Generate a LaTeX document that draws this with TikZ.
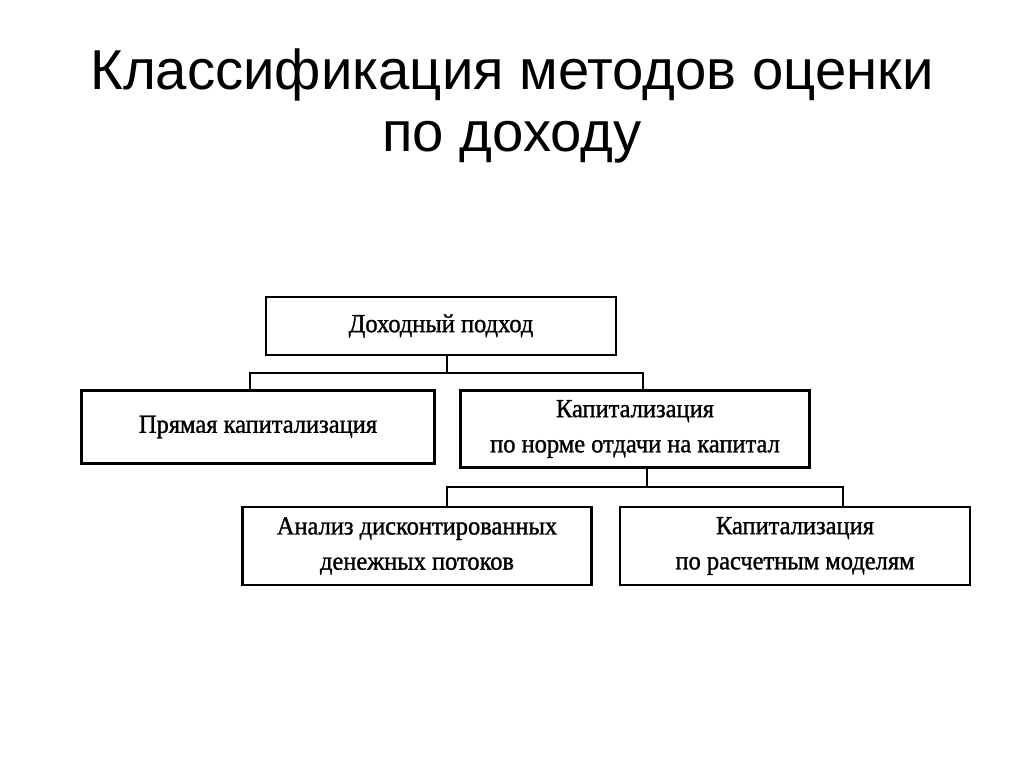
\documentclass[tikz,border=0pt]{standalone}
\usepackage{fontspec}
\setmainfont{Liberation Serif}
\newfontfamily\titlefont{Liberation Sans}
\newfontfamily\boxfont{Liberation Serif}[FakeBold=1.2,FakeStretch=0.94]
\usepackage{tikz}
\usetikzlibrary{positioning}

\begin{document}
\begin{tikzpicture}[x=0.025cm,y=-0.025cm]
\tikzstyle{box}=[draw,line width=1.6pt,align=center,inner sep=0pt,
  font=\boxfont\fontsize{18.5}{25}\selectfont];
\tikzstyle{conn}=[line width=0.8pt];

\useasboundingbox (0,0) rectangle (1024,767);

\node[align=center,font=\titlefont\fontsize{40}{43.5}\selectfont] (title) at (512,106)
{Классификация методов оценки\\по доходу};

\node[box,minimum width=8.75cm,minimum height=1.45cm] (dp) at (441,326) {Доходный подход};
\node[box,minimum width=8.82cm,minimum height=1.82cm] (pk) at (258,427) {Прямая капитализация};
\node[box,minimum width=8.72cm,minimum height=1.92cm] (kn) at (635,429) {Капитализация\\по норме отдачи на капитал};
\node[box,minimum width=8.72cm,minimum height=1.95cm] (adp) at (417,546) {Анализ дисконтированных\\денежных потоков};
\node[box,minimum width=8.75cm,minimum height=1.95cm] (krm) at (795,546) {Капитализация\\по расчетным моделям};

% bus lines
\coordinate (b1t) at (447,373);
\coordinate (b1l) at (250,373);
\coordinate (b1r) at (643,373);
\coordinate (b2t) at (647,487);
\coordinate (b2l) at (447,487);
\coordinate (b2r) at (843,487);

\path[draw] [conn] (dp.south -| b1t) -- (b1t);
\path[draw] [conn] (pk.north -| b1l) |- (b1l) -- (b1r) -- (kn.north -| b1r);
\path[draw] [conn] (kn.south -| b2t) -- (b2t);
\path[draw] [conn] (adp.north -| b2l) |- (b2l) -- (b2r) -- (krm.north -| b2r);
\end{tikzpicture}
\end{document}
